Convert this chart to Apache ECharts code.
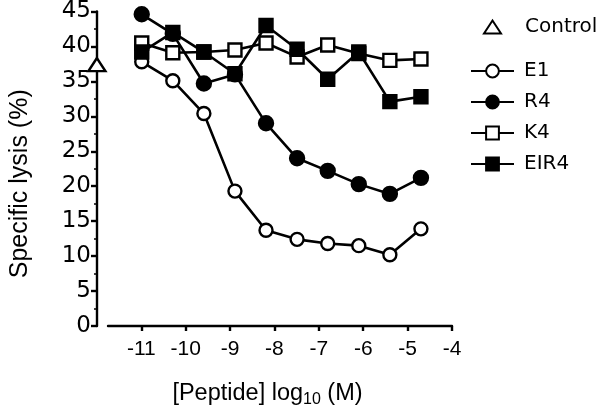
<!DOCTYPE html>
<html>
<head>
<meta charset="utf-8">
<script src="https://cdn.jsdelivr.net/npm/echarts@6/dist/echarts.min.js"></script>
<style>html,body{margin:0;padding:0;background:#fff}#c{width:600px;height:414px}</style>
</head>
<body>
<div id="c"></div>
<script>
// log10 peptide concentration (M), 5-fold dilutions
const concLog = [-10.99, -10.29, -9.59, -8.89, -8.19, -7.49, -6.80, -6.10, -5.40, -4.70];
const e1   = [37.8, 35.1, 30.4, 19.3, 13.7, 12.4, 11.8, 11.5, 10.2, 13.9];
const r4   = [44.6, 41.8, 34.7, 36.0, 29.0, 24.0, 22.2, 20.3, 18.9, 21.2];
const k4   = [40.5, 39.1, 39.2, 39.5, 40.5, 38.5, 40.2, 39.0, 38.0, 38.2];
const eir4 = [39.2, 42.0, 39.2, 36.1, 43.0, 39.6, 35.3, 39.2, 32.1, 32.8];
const controlX = -12;
const controlY = 37.4;
const xTicks = [-11, -10, -9, -8, -7, -6, -5, -4];
const yTicks = [0, 5, 10, 15, 20, 25, 30, 35, 40, 45];

const pair = (ys) => concLog.map((x, i) => [x, ys[i]]);
const chart = echarts.init(document.getElementById('c'));

function lineSeries(name, ys, symbol, filled, size) {
  return {
    name: name, type: 'line', data: pair(ys),
    symbol: symbol, symbolSize: size,
    showAllSymbol: true,
    lineStyle: { color: '#000', width: 2.6 },
    itemStyle: { color: filled ? '#000' : '#fff', borderColor: '#000', borderWidth: 2.4, opacity: 1 },
    emphasis: { disabled: true },
    z: 2
  };
}

chart.setOption({
  animation: false,
  backgroundColor: '#fff',
  grid: { left: 98, right: 148, top: 9, bottom: 88, containLabel: false },
  legend: [
    {
      data: ['Control'], left: 483, top: 17, orient: 'vertical', padding: 0,
      itemWidth: 17, itemHeight: 13,
      textStyle: { fontFamily: 'DejaVu Sans', fontSize: 20, color: '#000', padding: [0, 0, 0, 19] },
      selectedMode: false
    },
    {
      data: ['E1', 'R4', 'K4', 'EIR4'], left: 470, top: 61, orient: 'vertical', padding: 0,
      itemWidth: 43, itemHeight: 16, itemGap: 11,
      textStyle: { fontFamily: 'DejaVu Sans', fontSize: 20, color: '#000', padding: [0, 0, 0, 5] },
      selectedMode: false
    }
  ],
  xAxis: {
    type: 'value', min: -11.75, max: -4,
    name: '[Peptide] log{sub|10} (M)',
    nameLocation: 'middle', nameGap: 54,
    nameTextStyle: {
      fontFamily: 'Liberation Sans', fontSize: 23.5, color: '#000', lineHeight: 27,
      padding: [0, 25, 0, 0],
      rich: { sub: { fontFamily: 'Liberation Sans', fontSize: 16, lineHeight: 16, padding: [13, 0, 0, 0] } }
    },
    axisLine: { lineStyle: { color: '#000', width: 2.4 } },
    axisTick: { show: true, customValues: xTicks, length: 5, lineStyle: { color: '#000', width: 2.4 } },
    axisLabel: { customValues: xTicks, margin: 13, fontFamily: 'Liberation Sans', fontSize: 21, color: '#000' },
    splitLine: { show: false }
  },
  yAxis: {
    type: 'value', min: 0, max: 45, interval: 5, offset: 11,
    name: 'Specific lysis (%)',
    nameLocation: 'middle', nameGap: 64,
    nameTextStyle: { fontFamily: 'Liberation Sans', fontSize: 25, color: '#000', padding: [0, 30, 0, 0] },
    axisLine: { show: true, lineStyle: { color: '#000', width: 2.4 } },
    axisTick: { show: true, length: 6, lineStyle: { color: '#000', width: 2.4 } },
    minorTick: { show: true, splitNumber: 2, length: 3, lineStyle: { color: '#000', width: 1.5 } },
    axisLabel: { margin: 6, fontFamily: 'DejaVu Sans', fontSize: 23, color: '#000',
      formatter: (v) => yTicks.includes(v) ? String(v) : '' },
    splitLine: { show: false }
  },
  series: [
    lineSeries('E1', e1, 'circle', false, 13),
    lineSeries('R4', r4, 'circle', true, 14),
    lineSeries('K4', k4, 'rect', false, 13),
    lineSeries('EIR4', eir4, 'rect', true, 13),
    {
      name: 'Control', type: 'scatter', data: [[controlX, controlY]],
      symbol: 'triangle', symbolSize: [17, 13], clip: false,
      itemStyle: { color: '#fff', borderColor: '#000', borderWidth: 2.4, opacity: 1 },
      emphasis: { disabled: true }, z: 5
    }
  ]
});
</script>
</body>
</html>
